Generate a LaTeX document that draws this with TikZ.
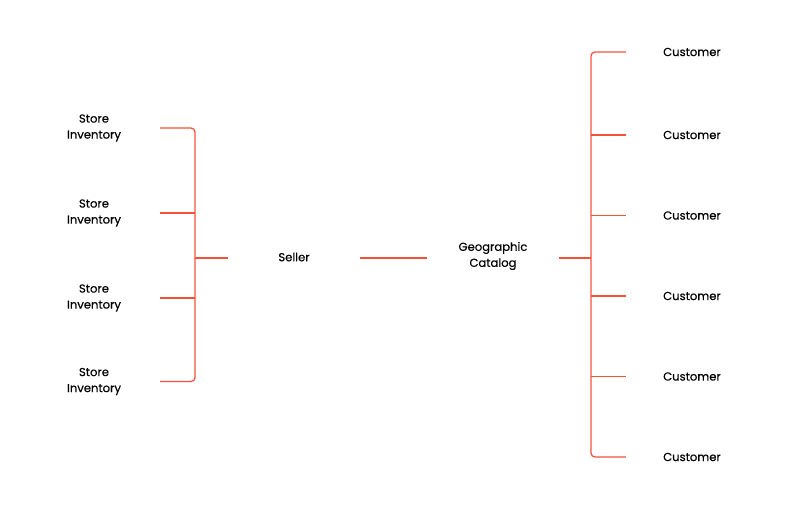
\documentclass[tikz,border=0pt]{standalone}
\usepackage{fontspec}
\setmainfont{Poppins}[FakeBold=0.4]
\usetikzlibrary{positioning}

\definecolor{wirered}{RGB}{244,81,59}

\begin{document}
\begin{tikzpicture}[
x=1pt, y=-1pt,
node distance=80.5pt,
every node/.style={
align=center,
minimum width=132pt,
inner sep=0pt,
font=\fontsize{11.6}{16}\selectfont
},
wire/.style={draw=wirered, line width=1.25pt}
]

% =====================================================
% Canvas
% =====================================================

\useasboundingbox (0,0) rectangle (792,509);

% =====================================================
% Nodes
% =====================================================

\node (store1) at (94,128) {Store\\Inventory};
\node (store2) at (94,213) {Store\\Inventory};
\node (store3) at (94,298) {Store\\Inventory};
\node (store4) at (94,381.5) {Store\\Inventory};

\node (seller) at (294,257) {Seller};

\node (catalog) at (493,256) {Geographic\\Catalog};

\node (cust1) at (692,52) {Customer};
\node (cust2) [below of=cust1, yshift=-2.5pt] {Customer};
\node (cust3) [below of=cust2] {Customer};
\node (cust4) [below of=cust3] {Customer};
\node (cust5) [below of=cust4] {Customer};
\node (cust6) [below of=cust5] {Customer};

\coordinate (lbus) at (195,258);
\coordinate (rbus) at (591,258);

% =====================================================
% Connectors
% =====================================================

\draw [wire, rounded corners=4pt] (store1.east) -| (lbus) |- (store4.east);
\draw [wire] (store2.east) -- (store2.east -| lbus);
\draw [wire] (store3.east) -- (store3.east -| lbus);
\draw [wire] (lbus) -- (lbus -| seller.west);

\draw [wire] (seller.east |- lbus) -- (catalog.west |- lbus);

\draw [wire] (catalog.east |- rbus) -- (rbus);
\draw [wire, rounded corners=4pt] (cust1.west) -| (rbus) |- (cust6.west);
\draw [wire] (cust2.west) -- (cust2.west -| rbus);
\draw [wire] (cust3.west) -- (cust3.west -| rbus);
\draw [wire] (cust4.west) -- (cust4.west -| rbus);
\draw [wire] (cust5.west) -- (cust5.west -| rbus);

\end{tikzpicture}
\end{document}
